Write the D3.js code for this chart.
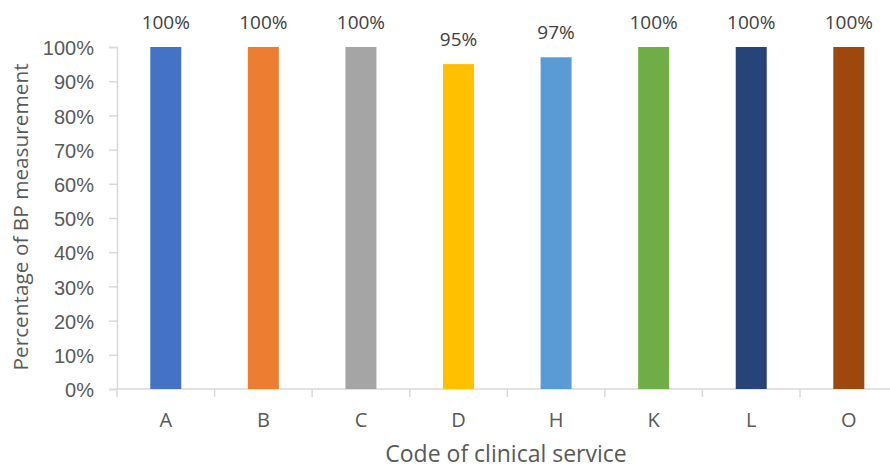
<!DOCTYPE html>
<html>
<head>
<meta charset="utf-8">
<script src="https://cdn.jsdelivr.net/npm/d3@7"></script>
<style>
  html, body { margin: 0; padding: 0; background: #fff; }
  svg { display: block; font-family: "Open Sans", "Liberation Sans", sans-serif; }
</style>
</head>
<body>
<svg id="chart" width="890" height="469"></svg>
<script>
// Share of patients with a BP measurement, by clinical service
const categories = ["A", "B", "C", "D", "H", "K", "L", "O"];
const values = [100, 100, 100, 95, 97, 100, 100, 100];
const colors = ["#4472C4", "#ED7D31", "#A5A5A5", "#FFC000", "#5B9BD5", "#70AD47", "#264478", "#9E480E"];
const yTicks = [0, 10, 20, 30, 40, 50, 60, 70, 80, 90, 100];

(function () {
  const svg = d3.select("#chart");
  const plotLeft = 117, plotRight = 897.6, plotTop = 47, plotBottom = 389;

  const x = d3.scaleBand().domain(categories).range([plotLeft, plotRight]).paddingInner(0).paddingOuter(0);
  const y = d3.scaleLinear().domain([0, 100]).range([plotBottom, plotTop]);
  const barW = 31;
  const textColor = "#595959";
  const axisColor = "#d9d9d9";

  // y axis
  const yAxis = svg.append("g").attr("transform", `translate(${plotLeft},0)`)
    .call(d3.axisLeft(y).tickValues(yTicks).tickFormat(d => d + "%").tickSize(8).tickPadding(15));
  yAxis.select(".domain").attr("stroke", axisColor).attr("stroke-width", 1.5);
  yAxis.selectAll(".tick line").attr("stroke", axisColor).attr("stroke-width", 1.5);
  yAxis.selectAll("text").attr("fill", textColor).style("font-size", "20px").attr("dy", "0.38em");

  // x axis with boundary ticks between categories
  const xg = svg.append("g").attr("transform", `translate(0,${plotBottom})`);
  xg.append("line").attr("x1", plotLeft).attr("x2", plotRight).attr("stroke", axisColor).attr("stroke-width", 1.5);
  const bounds = categories.map(c => x(c)).concat([x(categories[categories.length - 1]) + x.bandwidth()]);
  xg.selectAll(".bt").data(bounds).join("line")
    .attr("x1", d => d).attr("x2", d => d).attr("y1", 0).attr("y2", 8)
    .attr("stroke", axisColor).attr("stroke-width", 1.5);
  xg.selectAll(".cl").data(categories).join("text")
    .attr("x", d => x(d) + x.bandwidth() / 2).attr("y", 38)
    .attr("text-anchor", "middle").attr("fill", textColor).style("font-size", "20px")
    .text(d => d);

  // bars
  svg.selectAll(".bar").data(categories).join("rect")
    .attr("x", d => x(d) + x.bandwidth() / 2 - barW / 2)
    .attr("y", (d, i) => y(values[i]))
    .attr("width", barW)
    .attr("height", (d, i) => y(0) - y(values[i]))
    .attr("fill", (d, i) => colors[i]);

  // value labels
  svg.selectAll(".val").data(categories).join("text")
    .attr("x", d => x(d) + x.bandwidth() / 2)
    .attr("y", (d, i) => y(values[i]) - 18)
    .attr("text-anchor", "middle").attr("fill", "#404040").style("font-size", "19px")
    .text((d, i) => values[i] + "%");

  // axis titles
  svg.append("text")
    .attr("transform", `translate(28,217) rotate(-90)`)
    .attr("text-anchor", "middle").attr("fill", textColor).style("font-size", "20.8px")
    .text("Percentage of BP measurement");
  svg.append("text")
    .attr("x", 506).attr("y", 462)
    .attr("text-anchor", "middle").attr("fill", textColor).style("font-size", "23px")
    .text("Code of clinical service");
})();
</script>
</body>
</html>
